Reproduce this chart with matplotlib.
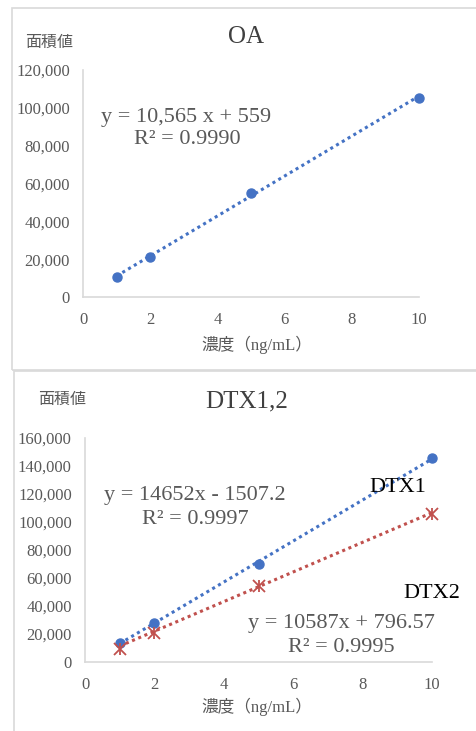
import numpy as np
import matplotlib
matplotlib.use('Agg')
from matplotlib import pyplot as plt
from matplotlib.patches import Rectangle

# 検量線データ
conc = [1, 2, 5, 10]
oa_area = [10570, 21150, 55100, 105300]
dtx1_area = [13900, 27900, 70000, 146000]
dtx2_area = [9600, 20700, 54300, 105500]

# 近似直線の係数 (傾き, 切片)
oa_fit = (10565, 559)
dtx1_fit = (14652, -1507.2)
dtx2_fit = (10587, 796.57)

oa_yticks = [0, 20000, 40000, 60000, 80000, 100000, 120000]
dtx_yticks = [0, 20000, 40000, 60000, 80000, 100000, 120000, 140000, 160000]
xticks = [0, 2, 4, 6, 8, 10]

BLUE = '#4472C4'
RED = '#C0504D'
GRID = '#D9D9D9'
TXT = '#595959'
SERIF = ['Liberation Serif', 'Noto Sans CJK JP']
JP = ['Noto Sans CJK JP']

W, H = 476, 731
fig = plt.figure(figsize=(W / 100, H / 100), dpi=100)


def box(x0, y0, x1, y1):
	# ピクセル座標(左上原点)でfig座標のaxesを作る
	return [x0 / W, 1 - y1 / H, (x1 - x0) / W, (y1 - y0) / H]


# パネル枠
fig.patches.append(Rectangle((12 / W, 1 - 370 / H), 1, 362 / H, transform=fig.transFigure,
							 fill=False, edgecolor=GRID, lw=1.2))
fig.patches.append(Rectangle((14 / W, -0.1), 1, 1 - 371 / H + 0.1, transform=fig.transFigure,
							 fill=False, edgecolor=GRID, lw=1.2))


def style_axes(ax, yticks):
	for s in ['top', 'right']:
		ax.spines[s].set_visible(False)
	for s in ['left', 'bottom']:
		ax.spines[s].set_color(GRID)
		ax.spines[s].set_linewidth(1.2)
	ax.set_xlim(0, 10)
	ax.set_ylim(yticks[0], yticks[-1])
	ax.set_xticks(xticks)
	ax.set_yticks(yticks)
	ax.set_xticklabels([str(v) for v in xticks], family=SERIF, fontsize=12, color=TXT)
	ax.set_yticklabels(['{:,}'.format(v) for v in yticks], family=SERIF, fontsize=12, color=TXT)
	ax.tick_params(length=0)
	ax.tick_params(axis='x', pad=10.5)
	ax.tick_params(axis='y', pad=9.5)
	ax.patch.set_alpha(0)


def trend(ax, fit, color):
	xs = np.array([conc[0], conc[-1]])
	ax.plot(xs, fit[0] * xs + fit[1], ls=(0, (1, 1.2)), lw=2.2, color=color, zorder=2)


# ---- OA ----
ax1 = fig.add_axes(box(83, 70, 419, 297))
style_axes(ax1, oa_yticks)
trend(ax1, oa_fit, BLUE)
ax1.plot(conc, oa_area, 'o', ms=6.5, color=BLUE, zorder=3, clip_on=False)
fig.text(246 / W, 1 - 37 / H, 'OA', family=SERIF, fontsize=18, color='#404040', ha='center', va='center')
fig.text(49 / W, 1 - 42 / H, '面積値', family=JP, fontsize=11.5, color=TXT, ha='center', va='center')
fig.text(257 / W, 1 - 345 / H, '濃度（ng/mL）', family=SERIF, fontsize=12, color=TXT, ha='center', va='center')
ax1.text(0.54, 95150, 'y = 10,565 x + 559', family=SERIF, fontsize=16, color=TXT, va='center')
ax1.text(1.52, 83000, 'R² = 0.9990', family=SERIF, fontsize=16, color=TXT, va='center')

# ---- DTX1,2 ----
ax2 = fig.add_axes(box(85, 438, 432, 662))
style_axes(ax2, dtx_yticks)
trend(ax2, dtx1_fit, BLUE)
trend(ax2, dtx2_fit, RED)
ax2.plot(conc, dtx1_area, 'o', ms=6.5, color=BLUE, zorder=3, clip_on=False)
ax2.plot(conc, dtx2_area, 'x', ms=9, mew=1.3, color=RED, zorder=3, clip_on=False)
ax2.plot(conc, dtx2_area, '|', ms=9, mew=1.3, color=RED, zorder=3, clip_on=False)
fig.text(247 / W, 1 - 401 / H, 'DTX1,2', family=SERIF, fontsize=18, color='#404040', ha='center', va='center')
fig.text(62 / W, 1 - 399 / H, '面積値', family=JP, fontsize=11.5, color=TXT, ha='center', va='center')
fig.text(257 / W, 1 - 707 / H, '濃度（ng/mL）', family=SERIF, fontsize=12, color=TXT, ha='center', va='center')
ax2.text(0.55, 119000, 'y = 14652x - 1507.2', family=SERIF, fontsize=16, color=TXT, va='center')
ax2.text(1.65, 101900, 'R² = 0.9997', family=SERIF, fontsize=16, color=TXT, va='center')
ax2.text(9.02, 124500, 'DTX1', family=SERIF, fontsize=16, color='black', ha='center', va='center')
ax2.text(10.0, 49000, 'DTX2', family=SERIF, fontsize=16, color='black', ha='center', va='center')
ax2.text(7.4, 27600, 'y = 10587x + 796.57', family=SERIF, fontsize=16, color=TXT, ha='center', va='center')
ax2.text(7.4, 10000, 'R² = 0.9995', family=SERIF, fontsize=16, color=TXT, ha='center', va='center')

fig.savefig('out.png', dpi=100, facecolor='white')
